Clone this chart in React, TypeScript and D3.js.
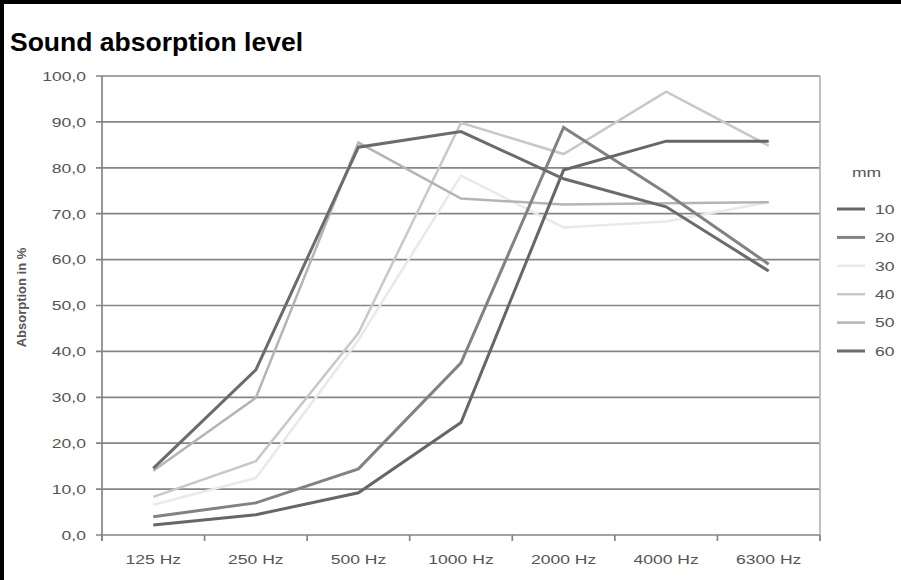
import React, { useEffect, useRef } from 'react';
import * as d3 from 'd3';

// frequency bands on the x axis
const frequencies = ['125 Hz', '250 Hz', '500 Hz', '1000 Hz', '2000 Hz', '4000 Hz', '6300 Hz'];

// absorption in % per panel thickness (mm)
const thicknesses = ['10', '20', '30', '40', '50', '60'];
const mm10 = [2.2, 4.4, 9.2, 24.5, 79.5, 85.8, 85.8];
const mm20 = [4.0, 7.0, 14.4, 37.5, 88.8, 74.5, 59.0];
const mm30 = [6.6, 12.4, 42.5, 78.3, 67.0, 68.3, 72.5];
const mm40 = [8.3, 16.1, 44.0, 89.8, 83.0, 96.6, 84.8];
const mm50 = [14.0, 29.9, 85.5, 73.3, 72.0, 72.3, 72.5];
const mm60 = [14.5, 36.0, 84.5, 87.9, 77.6, 71.5, 57.5];

const yTicks = [0, 10, 20, 30, 40, 50, 60, 70, 80, 90, 100];

const seriesColors = ['#666666', '#828282', '#e9e9e9', '#c8c8c8', '#b4b4b4', '#6b6b6b'];
const seriesWidths = [3, 3, 2.5, 2.5, 2.5, 3];

const WIDTH = 901;
const HEIGHT = 580;
const STRETCH = 1.3; // the chart text in the original is widened horizontally

const App: React.FC = () => {
  const svgRef = useRef<SVGSVGElement>(null);

  useEffect(() => {
    if (!svgRef.current) return;
    const svg = d3.select(svgRef.current);
    svg.selectAll('*').remove();

    const series = [mm10, mm20, mm30, mm40, mm50, mm60];

    const left = 102;
    const right = 820;
    const top = 76;
    const bottom = 535;

    const x = d3.scaleBand<string>().domain(frequencies).range([left, right]).padding(0);
    const y = d3.scaleLinear().domain([0, 100]).range([bottom, top]);
    const fmt = (v: number) => d3.format('.1f')(v).replace('.', ',');

    svg.append('rect').attr('width', WIDTH).attr('height', HEIGHT).attr('fill', '#fff');

    // frame of the figure
    svg.append('rect').attr('x', 0).attr('y', 0).attr('width', 4).attr('height', HEIGHT).attr('fill', '#000');
    svg.append('rect').attr('x', 0).attr('y', 0).attr('width', WIDTH).attr('height', 4).attr('fill', '#000');

    svg.append('text')
      .attr('x', 10)
      .attr('y', 51)
      .text('Sound absorption level')
      .style('font-family', '"Liberation Sans", Arial, sans-serif')
      .style('font-weight', 'bold')
      .style('font-size', '26.5px')
      .style('fill', '#000');

    // gridlines + y ticks
    const grid = svg.append('g');
    grid.selectAll('line')
      .data(yTicks)
      .enter()
      .append('line')
      .attr('x1', left - 6)
      .attr('x2', right)
      .attr('y1', d => y(d))
      .attr('y2', d => y(d))
      .attr('stroke', '#858585')
      .attr('stroke-width', 1.7);

    // right border of the plot
    svg.append('line')
      .attr('x1', right).attr('x2', right)
      .attr('y1', top).attr('y2', bottom + 6)
      .attr('stroke', '#b0b0b0')
      .attr('stroke-width', 1.6);

    // axis lines
    svg.append('line')
      .attr('x1', left).attr('x2', left)
      .attr('y1', top).attr('y2', bottom + 6)
      .attr('stroke', '#858585')
      .attr('stroke-width', 1.7);

    const xTickPos = frequencies.map(f => x(f) as number).concat([right]);
    svg.append('g')
      .selectAll('line')
      .data(xTickPos)
      .enter()
      .append('line')
      .attr('x1', d => d).attr('x2', d => d)
      .attr('y1', bottom).attr('y2', bottom + 6)
      .attr('stroke', '#858585')
      .attr('stroke-width', 1.7);

    const labelStyle = (sel: d3.Selection<SVGTextElement, any, any, any>) =>
      sel.style('font-family', '"Liberation Sans", Arial, sans-serif')
        .style('font-size', '13.5px')
        .style('fill', '#555');

    // y labels
    svg.append('g')
      .selectAll('text')
      .data(yTicks)
      .enter()
      .append('text')
      .attr('transform', d => `translate(86,${y(d) + 4.8}) scale(${STRETCH},1)`)
      .attr('text-anchor', 'end')
      .text(d => fmt(d))
      .call(labelStyle);

    // x labels
    svg.append('g')
      .selectAll('text')
      .data(frequencies)
      .enter()
      .append('text')
      .attr('transform', d => `translate(${(x(d) as number) + x.bandwidth() / 2},564) scale(${STRETCH},1)`)
      .attr('text-anchor', 'middle')
      .text(d => d)
      .call(labelStyle);

    // y axis title
    svg.append('text')
      .attr('transform', `translate(26,${(top + bottom) / 2 - 8}) rotate(-90)`)
      .attr('text-anchor', 'middle')
      .text('Absorption in %')
      .style('font-family', '"Liberation Sans", Arial, sans-serif')
      .style('font-weight', 'bold')
      .style('font-size', '13px')
      .style('fill', '#555');

    // lines
    const line = d3.line<number>()
      .x((_, i) => (x(frequencies[i]) as number) + x.bandwidth() / 2)
      .y(d => y(d));

    const drawOrder = [2, 3, 4, 1, 0, 5];
    svg.append('g')
      .selectAll('path')
      .data(drawOrder)
      .enter()
      .append('path')
      .attr('d', i => line(series[i]) as string)
      .attr('fill', 'none')
      .attr('stroke', i => seriesColors[i])
      .attr('stroke-width', i => seriesWidths[i])
      .attr('stroke-linejoin', 'miter');

    // legend
    const legend = svg.append('g');
    legend.append('text')
      .attr('transform', `translate(852,177) scale(${STRETCH},1)`)
      .text('mm')
      .call(labelStyle);

    const legendY = d3.scalePoint<string>().domain(thicknesses).range([209, 351]);
    const items = legend.selectAll('g.item')
      .data(thicknesses)
      .enter()
      .append('g')
      .attr('class', 'item');
    items.append('line')
      .attr('x1', 837).attr('x2', 865)
      .attr('y1', d => legendY(d) as number)
      .attr('y2', d => legendY(d) as number)
      .attr('stroke', (_, i) => seriesColors[i])
      .attr('stroke-width', (_, i) => seriesWidths[i]);
    items.append('text')
      .attr('transform', d => `translate(875,${(legendY(d) as number) + 4.8}) scale(${STRETCH},1)`)
      .text(d => d)
      .call(labelStyle);
  }, []);

  return (
    <svg
      ref={svgRef}
      width={WIDTH}
      height={HEIGHT}
      style={{ position: 'absolute', left: 0, top: 0, display: 'block' }}
    />
  );
};

export default App;
